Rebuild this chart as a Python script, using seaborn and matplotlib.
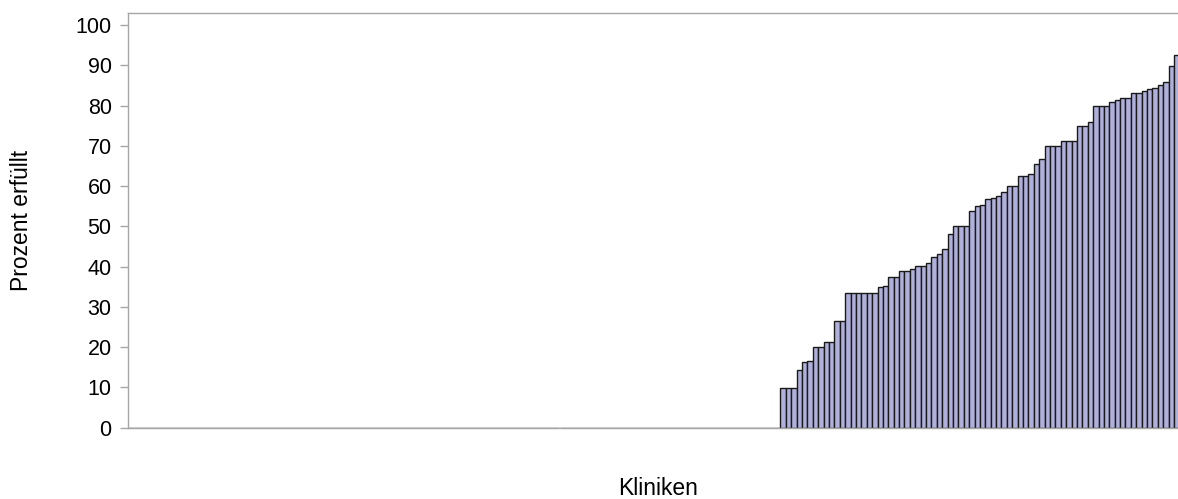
import numpy as np
import pandas as pd
import seaborn as sns
import matplotlib.pyplot as plt

# Kliniken ohne erfüllte Kriterien (0 %) und die übrigen, aufsteigend sortiert
n_null = 121
werte = [
    9.7, 9.9, 9.9, 14.4, 16.2, 16.6, 20.0, 20.0, 21.3, 21.3, 26.4, 26.4,
    33.3, 33.3, 33.3, 33.3, 33.3, 33.3, 34.8, 35.2, 37.5, 37.5, 38.9, 38.9,
    39.3, 40.1, 40.1, 41.0, 42.3, 43.0, 44.3, 48.1, 50.0, 50.0, 50.0, 53.7,
    55.0, 55.3, 56.7, 57.0, 57.6, 58.6, 60.0, 60.0, 62.4, 62.4, 63.0, 65.6,
    66.6, 70.0, 70.0, 70.0, 71.3, 71.3, 71.3, 75.0, 75.0, 76.0, 80.0, 80.0,
    80.0, 81.0, 81.3, 81.9, 81.9, 83.2, 83.2, 83.7, 84.1, 84.4, 85.0, 85.8,
    89.9, 92.5,
]
prozent = [0.0] * n_null + werte
kliniken = [f"K{i + 1}" for i in range(len(prozent))]

df = pd.DataFrame({"klinik": kliniken, "prozent": prozent})

sns.set_style("white")
plt.rcParams["font.family"] = ["Liberation Sans", "DejaVu Sans"]
plt.rcParams["text.color"] = "black"
plt.rcParams["axes.labelcolor"] = "black"
plt.rcParams["ytick.labelcolor"] = "black"

fig = plt.figure(figsize=(11.78, 4.99), dpi=100)
n = len(prozent)
breite = n * 5.39
# rechter Rand liegt knapp außerhalb des Bildes
ax = fig.add_axes([128.3 / 1178, 1 - 427.5 / 499, breite / 1178, (427.5 - 13) / 499])

sns.barplot(data=df, x="klinik", y="prozent", color="#b0b0dc", width=1.0,
            edgecolor="#1a1a1a", linewidth=1.0, saturation=1, ax=ax)

ax.set_ylim(0, 103)
ax.set_xlim(-0.5, n - 0.5)
ax.set_yticks(range(0, 101, 10))
ax.set_xticks([])
ax.tick_params(axis="y", direction="out", length=6, width=1, color="#a6a6a6",
               labelsize=15.5, labelcolor="black", pad=6, left=True)

for s in ["left", "bottom", "top", "right"]:
    ax.spines[s].set_color("#a6a6a6")
    ax.spines[s].set_linewidth(1)

ax.set_ylabel("Prozent erfüllt", fontsize=16.5)
ax.set_xlabel("Kliniken", fontsize=16.5)
ax.yaxis.set_label_coords((33 - 128.3) / breite, 0.5)
ax.xaxis.set_label_coords((658 - 128.3) / breite, -(477 - 427.5) / 414.5)

fig.savefig("out.png", dpi=100)
